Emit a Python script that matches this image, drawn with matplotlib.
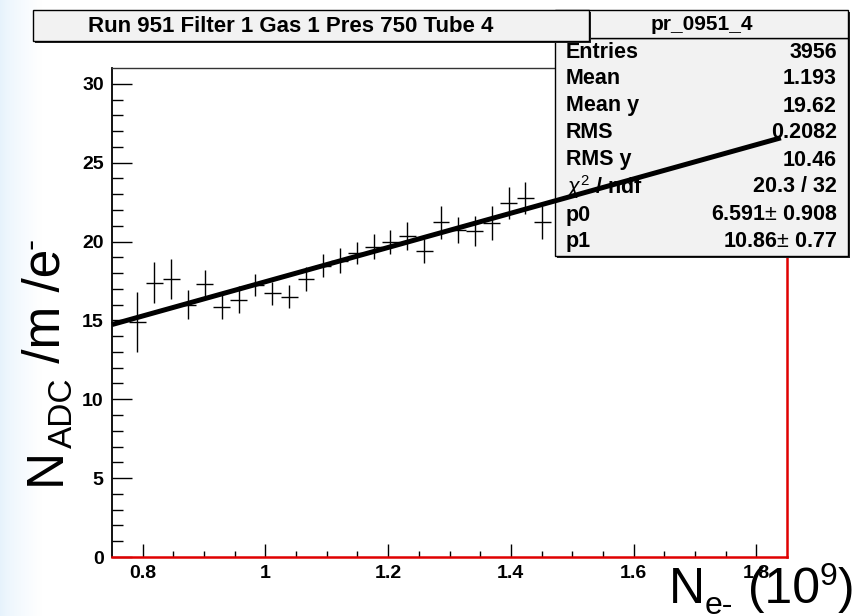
import numpy as np
import matplotlib
matplotlib.use("Agg")
import matplotlib.pyplot as plt
from matplotlib.patches import Rectangle

plt.rcParams['font.family'] = ['Liberation Sans', 'DejaVu Sans']
plt.rcParams['mathtext.fontset'] = 'custom'
plt.rcParams['mathtext.rm'] = 'Liberation Sans'
plt.rcParams['mathtext.it'] = 'Liberation Sans:italic'
plt.rcParams['mathtext.bf'] = 'Liberation Sans:bold'

# profile bins (centres), mean values and errors
bin_centers = [0.79125, 0.81875, 0.84625, 0.87375, 0.90125, 0.92875, 0.95625,
               0.98375, 1.01125, 1.03875, 1.06625, 1.09375, 1.12125, 1.14875,
               1.17625, 1.20375, 1.23125, 1.25875, 1.28625, 1.31375, 1.34125,
               1.36875, 1.39625, 1.42375, 1.45125]
bin_means = [14.88, 17.39, 17.61, 16.00, 17.31, 15.85, 16.30, 17.25, 16.72,
             16.51, 17.63, 18.47, 18.79, 19.26, 19.68, 20.00, 20.36, 19.40,
             21.22, 20.73, 20.67, 21.16, 22.43, 22.75, 21.22]
bin_errors = [1.91, 1.29, 1.25, 0.92, 0.90, 0.79, 0.85, 0.71, 0.72, 0.74,
              0.74, 0.71, 0.79, 0.68, 0.79, 0.76, 0.87, 0.78, 1.06, 0.85,
              0.95, 1.06, 1.02, 1.02, 1.06]
bin_half_width = 0.01375

# linear fit result
p0 = 6.591
p1 = 10.86
fit_range = [0.75, 1.84]

title_text = "Run 951 Filter 1 Gas 1 Pres 750 Tube 4"
hist_name = "pr_0951_4"
stat_names = ["Entries", "Mean", "Mean y", "RMS", "RMS y",
              r"$\chi^{2}$ / ndf", "p0", "p1"]
stat_values = ["3956", "1.193", "19.62", "0.2082", "10.46", "20.3 / 32",
               "6.591$\\pm$ 0.908", "10.86$\\pm$ 0.77"]

W, H = 860, 616
fig = plt.figure(figsize=(W / 100, H / 100), dpi=100)
fig.patch.set_facecolor('white')
renderer = fig.canvas.get_renderer()

# pale blue band on the left edge
bg = fig.add_axes([0, 0, 42 / W, 1])
grad = np.linspace(0, 1, 200)[None, :]
c0 = np.array([0.90, 0.95, 0.99])
c1 = np.array([1.0, 1.0, 1.0])
img = c0[None, None, :] * (1 - grad[..., None] ** 0.7) + c1[None, None, :] * grad[..., None] ** 0.7
bg.imshow(img, aspect='auto', extent=[0, 1, 0, 1])
bg.set_axis_off()

ax = fig.add_axes([112 / W, 1 - 557 / H, (787 - 112) / W, (557 - 68) / H])
ax.set_xlim(0.75, 1.85)
ax.set_ylim(0, 31)

ax.errorbar(bin_centers, bin_means, yerr=bin_errors, xerr=bin_half_width,
            fmt='none', ecolor='black', elinewidth=1.0, capsize=0, zorder=3)

xf = np.array(fit_range)
ax.plot(xf, p0 + p1 * xf, color='black', lw=3.6, solid_capstyle='butt',
        zorder=20, clip_on=False)

# frame
ax.spines['left'].set_color('black')
ax.spines['left'].set_linewidth(1.3)
ax.spines['top'].set_color('#333333')
ax.spines['top'].set_linewidth(1.0)
for s in ['bottom', 'right']:
    ax.spines[s].set_color('#e00000')
    ax.spines[s].set_linewidth(1.8)

ax.set_xticks([0.8, 1.0, 1.2, 1.4, 1.6, 1.8])
ax.set_xticklabels(['0.8', '1', '1.2', '1.4', '1.6', '1.8'])
ax.set_xticks(np.arange(0.85, 1.85, 0.05), minor=True)
ax.set_yticks([0, 5, 10, 15, 20, 25, 30])
ax.set_yticks(np.arange(0, 31, 1), minor=True)
ax.tick_params(axis='both', which='both', direction='in', top=False, right=False,
               width=1.0, color='black')
ax.tick_params(axis='x', which='major', length=9.5, pad=6)
ax.tick_params(axis='x', which='minor', length=4)
ax.tick_params(axis='y', which='major', length=14.5, pad=6)
ax.tick_params(axis='y', which='minor', length=8)
for lab in ax.get_xticklabels() + ax.get_yticklabels():
    lab.set_fontsize(14)
    lab.set_fontweight('bold')


def label_pieces(pieces, x0, y0, vertical=False):
    """Lay out text pieces (text, size, baseline shift in px) one after another."""
    pos = x0 if not vertical else y0
    for txt, size, shift in pieces:
        if vertical:
            t = fig.text((x0 + shift) / W, 1 - pos / H, txt, fontsize=size,
                         rotation=90, rotation_mode='anchor',
                         ha='left', va='baseline')
            pos -= t.get_window_extent(renderer).height
        else:
            t = fig.text(pos / W, 1 - (y0 + shift) / H, txt, fontsize=size,
                         ha='left', va='baseline')
            pos += t.get_window_extent(renderer).width


# axis titles
label_pieces([("N", 36, 0), ("e-", 23, 11), (" (10", 36, 0), ("9", 23, -18),
              (")", 36, 0)], 669, 603)
label_pieces([("N", 37, 0), ("ADC", 24, 12), (" /m /e", 37, 0), ("-", 24, -19)],
             60, 485, vertical=True)


def box(x0, y0, x1, y1, z, fc='#f2f2f2'):
    sh = Rectangle(((x0 + 2) / W, 1 - (y1 + 2) / H), (x1 - x0) / W, (y1 - y0) / H,
                   transform=fig.transFigure, facecolor='#222222', edgecolor='none',
                   zorder=z - 0.1, clip_on=False)
    r = Rectangle((x0 / W, 1 - y1 / H), (x1 - x0) / W, (y1 - y0) / H,
                  transform=fig.transFigure, facecolor=fc, edgecolor='black',
                  lw=1.0, zorder=z, clip_on=False)
    ax.add_patch(sh)
    ax.add_patch(r)


# statistics box
box(555, 38, 848, 256, 10)
box(555, 10, 848, 38, 10)
ax.text(702 / W, 1 - 24 / H, hist_name, transform=fig.transFigure, fontsize=15,
        fontweight='bold', ha='center', va='center', zorder=11)
row_y = [52, 79, 106, 133, 160, 187, 215, 242]
for name, val, yy in zip(stat_names, stat_values, row_y):
    ax.text(566 / W, 1 - yy / H, name, transform=fig.transFigure, fontsize=15.5,
            fontweight='bold', ha='left', va='center', zorder=11)
    ax.text(837 / W, 1 - yy / H, val, transform=fig.transFigure, fontsize=15.5,
            fontweight='bold', ha='right', va='center', zorder=11)

# title box
box(33, 10, 589, 41, 12)
ax.text(291 / W, 1 - 27 / H, title_text, transform=fig.transFigure, fontsize=16,
        fontweight='bold', ha='center', va='center', zorder=13)

fig.savefig('out.png', dpi=100)
